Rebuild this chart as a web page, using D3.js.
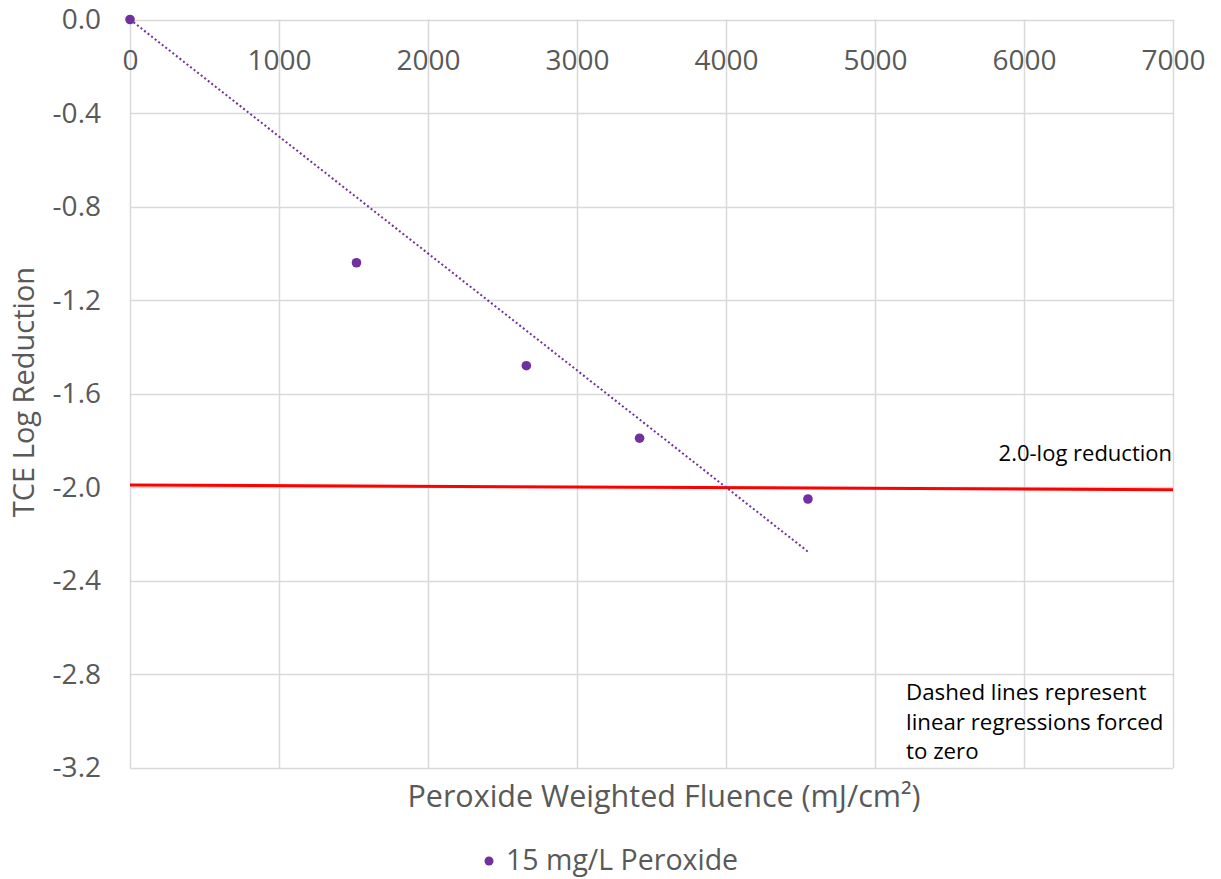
<!DOCTYPE html>
<html>
<head>
<meta charset="utf-8">
<script src="https://cdn.jsdelivr.net/npm/d3@7"></script>
<style>
  html, body { margin: 0; padding: 0; background: #fff; }
  svg { display: block; font-family: "Open Sans", Lato, sans-serif; }
</style>
</head>
<body>
<svg id="chart" width="1221" height="879"></svg>
<script>
// Measured TCE log reduction against peroxide-weighted fluence
const fluence = [0, 1520, 2660, 3420, 4550];
const logReduction = [0, -1.04, -1.48, -1.79, -2.05];
const seriesName = "15 mg/L Peroxide";

// Regression forced through zero (slope per mJ/cm²) and its fluence range
const regressionSlope = -0.0005;
const regressionRange = [0, 4550];

// 2.0-log reduction target line endpoints
const targetX = [0, 7000];
const targetY = [-1.99, -2.01];

const xTicks = [0, 1000, 2000, 3000, 4000, 5000, 6000, 7000];
const yTicks = [0.0, -0.4, -0.8, -1.2, -1.6, -2.0, -2.4, -2.8, -3.2];

const svg = d3.select("#chart");
const plotLeft = 130, plotRight = 1173, plotTop = 19.5, plotBottom = 768;

const x = d3.scaleLinear().domain([0, 7000]).range([plotLeft, plotRight]);
const y = d3.scaleLinear().domain([0, -3.2]).range([plotTop, plotBottom]);

const grid = "#d9d9d9";
const textGrey = "#595959";
const purple = "#7030a0";
const fontStack = "'Open Sans', Lato, sans-serif";

// Gridlines
const g = svg.append("g");
g.selectAll("line.h").data(yTicks).join("line")
  .attr("x1", plotLeft).attr("x2", plotRight)
  .attr("y1", d => Math.round(y(d)) + 0.5).attr("y2", d => Math.round(y(d)) + 0.5)
  .attr("stroke", grid).attr("stroke-width", 1.5);
g.selectAll("line.v").data(xTicks).join("line")
  .attr("y1", plotTop).attr("y2", plotBottom)
  .attr("x1", d => Math.round(x(d)) + 0.5).attr("x2", d => Math.round(x(d)) + 0.5)
  .attr("stroke", grid).attr("stroke-width", 1.5);

// X axis labels sit just under the zero line
const xAxis = d3.axisBottom(x).tickValues(xTicks).tickSize(0).tickPadding(0).tickFormat(d => String(d));
const xa = svg.append("g").attr("transform", `translate(0,${plotTop + 31})`).call(xAxis);
xa.select(".domain").remove();
xa.selectAll("text").attr("fill", textGrey).attr("font-size", 28).attr("dy", "0.71em")
  .style("font-family", fontStack);

// Y axis labels
const yAxis = d3.axisLeft(y).tickValues(yTicks).tickSize(0).tickPadding(0).tickFormat(d => d.toFixed(1));
const ya = svg.append("g").attr("transform", `translate(${plotLeft - 29},0)`).call(yAxis);
ya.select(".domain").remove();
ya.selectAll("text").attr("fill", textGrey).attr("font-size", 28)
  .style("font-family", fontStack);

// Target line
const line = d3.line().x(d => x(d[0])).y(d => y(d[1]));
svg.append("path")
  .datum(d3.zip(targetX, targetY))
  .attr("d", line).attr("fill", "none").attr("stroke", "#ff0000").attr("stroke-width", 3);

// Regression line (dotted)
svg.append("path")
  .datum(regressionRange.map(v => [v, regressionSlope * v]))
  .attr("d", line).attr("fill", "none").attr("stroke", purple)
  .attr("stroke-width", 2).attr("stroke-dasharray", "2 2.5");

// Data points
svg.selectAll("circle.pt").data(d3.zip(fluence, logReduction)).join("circle")
  .attr("cx", d => x(d[0])).attr("cy", d => y(d[1])).attr("r", 4.8).attr("fill", purple);

// Axis titles
svg.append("text").attr("x", 664).attr("y", 807)
  .attr("text-anchor", "middle").attr("font-size", 30.5).attr("fill", textGrey)
  .text("Peroxide Weighted Fluence (mJ/cm²)");

svg.append("text").attr("transform", "translate(34,392) rotate(-90)")
  .attr("text-anchor", "middle").attr("font-size", 29).attr("fill", textGrey)
  .text("TCE Log Reduction");

// Annotations
svg.append("text").attr("x", 1172).attr("y", 461).attr("text-anchor", "end")
  .attr("font-size", 22).attr("fill", "#000").text("2.0-log reduction");

const note = ["Dashed lines represent", "linear regressions forced", "to zero"];
svg.append("g").selectAll("text").data(note).join("text")
  .attr("x", 906).attr("y", (d, i) => 700 + i * 29.5)
  .attr("font-size", 22.3).attr("fill", "#000").text(d => d);

// Legend
svg.append("circle").attr("cx", 489).attr("cy", 861).attr("r", 4.5).attr("fill", purple);
svg.append("text").attr("x", 506).attr("y", 870).attr("font-size", 28.5).attr("fill", textGrey)
  .text(seriesName);
</script>
</body>
</html>
